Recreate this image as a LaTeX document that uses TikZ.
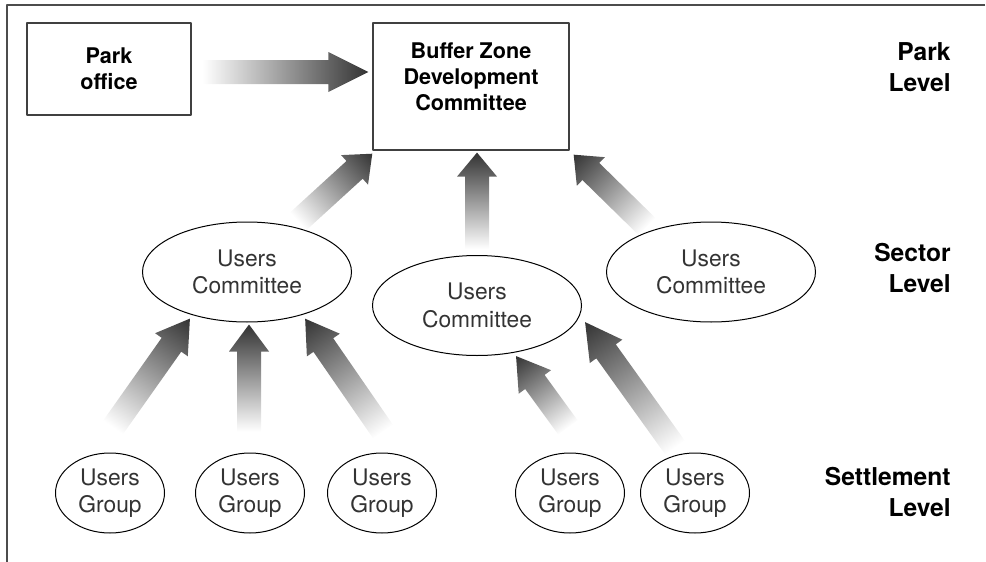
\documentclass[tikz,border=0pt]{standalone}
\usepackage{fontspec}
\setmainfont{TeX Gyre Heros}
\usetikzlibrary{shapes.geometric,calc}
% shaded block arrow from a tail coordinate to a tip coordinate
\newcommand\fatarrow[3][16pt]{%
  \pgfpointdiff{\pgfpointanchor{#2}{center}}{\pgfpointanchor{#3}{center}}%
  \pgfgetlastxy{\arrdx}{\arrdy}%
  \pgfmathsetmacro\arrang{atan2(\arrdy,\arrdx)}%
  \pgfmathsetmacro\arrlen{veclen(\arrdx,\arrdy)}%
  \begin{scope}[transform canvas={shift={(#2)},rotate=\arrang}]
    \shade[fatarrow] (0pt,-6pt) -- ({\arrlen pt-#1},-6pt) -- ({\arrlen pt-#1},-10pt) -- (\arrlen pt,0pt)
      -- ({\arrlen pt-#1},10pt) -- ({\arrlen pt-#1},6pt) -- (0pt,6pt) -- cycle;
  \end{scope}}
\begin{document}
\begin{tikzpicture}[x=0.5pt, y=-0.5pt, line join=round,
    box/.style={draw=black!75, line width=0.6pt, inner sep=0pt, align=center,
      font=\fontsize{10.8}{13}\selectfont\bfseries},
    boxtext/.style={inner sep=0pt, align=center, font=\fontsize{10.8}{13}\selectfont\bfseries},
    comm/.style={ellipse, draw, line width=0.5pt, minimum width=104.5pt, minimum height=50pt,
      inner sep=0pt, align=center, text=black!80, font=\fontsize{11.4}{13.8}\selectfont},
    grp/.style={comm, minimum width=54.5pt, minimum height=40pt},
    lvl/.style={anchor=east, inner sep=0pt, align=right, font=\fontsize{12.3}{15.5}\selectfont\bfseries},
    fatarrow/.style={left color=white, right color=black!80}]
  \useasboundingbox (0,0) rectangle (986,562);
  \draw[black!70, line width=0.8pt] (985,5) -- (7,5) -- (7,562);
  % park level
  \node[box, minimum width=82pt, minimum height=46pt] (park) at (109,69) {Park\\office};
  \node[box, minimum width=98pt, minimum height=63.5pt] (bzdc) at (471,86.5) {};
  \node[boxtext] (bzdctext) at (471,77) {Buffer Zone\\Development\\Committee};
  % sector level
  \node[comm] (uc1) at (247,272) {Users\\Committee};
  \node[comm] (uc2) at (477,305.5) {Users\\Committee};
  \node[comm] (uc3) at (711,272) {Users\\Committee};
  % settlement level
  \foreach \x [count=\i] in {110,250,382,570,695}
    \node[grp] (ug\i) at (\x,493) {Users\\Group};
  % level labels
  \node[lvl] (parklvl) at (951,67.5) {Park\\Level};
  \node[lvl] (sectorlvl) at (951,267.5) {Sector\\Level};
  \node[lvl] (settlvl) at (951,492) {Settlement\\Level};
  % arrow ends
  \coordinate (t0) at ($(park.east)+(11,3)$);    \coordinate (h0) at ($(bzdc.west)+(-4,-14.5)$);
  \coordinate (t1) at ($(uc1.north)+(51,0)$);    \coordinate (h1) at ($(bzdc.south west)+(0,3)$);
  \coordinate (t2) at ($(uc2.north)+(0,-6)$);    \coordinate (h2) at ($(bzdc.south)+(6,2)$);
  \coordinate (t3) at ($(uc3.north)+(-64,5)$);   \coordinate (h3) at ($(bzdc.south east)+(4,4)$);
  \coordinate (t4) at ($(ug1.north)+(3,-25)$);   \coordinate (h4) at ($(uc1.south)+(-57,-4)$);
  \coordinate (t5) at ($(ug2.north)+(-1,-21)$);  \coordinate (h5) at ($(uc1.south)+(2,2)$);
  \coordinate (t6) at ($(ug3.north)+(1,-21)$);   \coordinate (h6) at ($(uc1.south)+(58,-4)$);
  \coordinate (t7) at ($(ug4.north)+(-2,-25)$);  \coordinate (h7) at ($(uc2.south)+(39,0)$);
  \coordinate (t8) at ($(ug5.north)+(-20,-5)$);  \coordinate (h8) at ($(uc2.east)+(3,16.5)$);
  \foreach \i/\l in {0/20pt,1/12pt,2/12pt,3/12pt,4/16pt,5/13.5pt,6/16pt,7/16pt,8/18pt}
    \fatarrow[\l]{t\i}{h\i};
\end{tikzpicture}
\end{document}
